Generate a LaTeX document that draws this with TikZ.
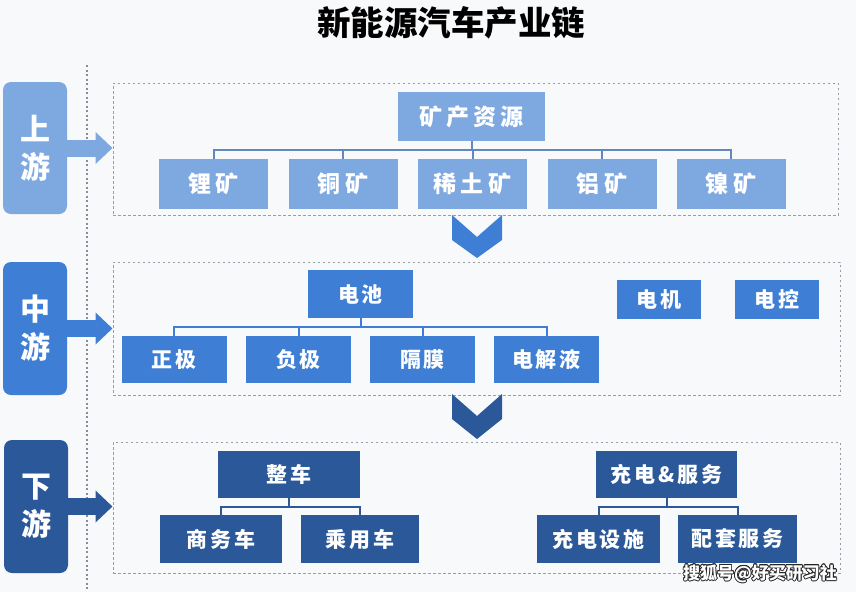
\documentclass[tikz,border=0pt]{standalone}
\usepackage{fontspec}
\usepackage{xcolor}
\usepackage{tikz}
\usepackage{contour}
\usetikzlibrary{positioning,calc,arrows.meta}
\newfontfamily\cjk{Noto Sans CJK SC}
\definecolor{upblue}{RGB}{125,168,224}
\definecolor{midblue}{RGB}{62,126,213}
\definecolor{lowblue}{RGB}{43,88,152}
\definecolor{upline}{RGB}{100,135,190}
\definecolor{framegray}{RGB}{150,158,170}
\definecolor{bggray}{RGB}{248,249,251}
\contourlength{0.7pt}

\begin{document}
\begin{tikzpicture}[x=1pt, y=-1pt, box/.style = {rectangle, inner sep=0pt, outer sep=0pt, text=white, font=\cjk\bfseries\fontsize{21}{21}\selectfont\addfontfeature{LetterSpace=14}}, upbox/.style = {box, fill=upblue, minimum width=109pt, minimum height=50pt, font=\cjk\bfseries\fontsize{23}{23}\selectfont\addfontfeature{LetterSpace=18}}, midbox/.style = {box, fill=midblue, minimum width=105pt, minimum height=47pt}, lowbox/.style = {box, fill=lowblue, minimum height=48pt}, stage/.style = {rectangle, rounded corners=8pt, minimum width=64pt, minimum height=133pt, inner sep=0pt, text=white, align=center, font=\cjk\bfseries\fontsize{30}{38}\selectfont}, frame/.style = {draw=framegray, line width=1pt, dash pattern=on 2.5pt off 2.5pt, inner sep=0pt}, link/.style = {line width=2pt}, bigarrow/.style = {line width=17pt, -{Triangle[length=17pt 0, width=31pt 0]}}]

\path[use as bounding box, fill=bggray] (0,0) rectangle (856,592);

\node[font=\cjk\bfseries\fontsize{33.5}{33.5}\selectfont] (title) at (451,23) {新能源汽车产业链};

\draw[framegray!90!black, line width=1.5pt, dash pattern=on 2pt off 2.5pt] (87,65) -- (87,590);

%upstream
\node[stage, fill=upblue, minimum height=132pt] (up) at (35,148) {上\\游};
\node[frame, minimum width=725pt, minimum height=132pt] (upframe) at (475.5,149) {};
\node[upbox, minimum width=147pt, minimum height=49pt] (res) at (471.5,116.5) {矿产资源};
\node[upbox] (li) at (213.5,184) {锂矿};
\node[upbox] (cu) at (343,184) {铜矿};
\node[upbox] (re) at (472.5,184) {稀土矿};
\node[upbox] (al) at (602,184) {铝矿};
\node[upbox] (ni) at (731,184) {镍矿};
\foreach \c in {li,cu,re,al,ni}
  \draw[link, upline] (res.south) -- ++(0,9) -| (\c.north);
\draw[bigarrow, upblue] (up.east) -- (up.east -| upframe.west);

%midstream
\node[stage, fill=midblue] (mid) at (35,328.5) {中\\游};
\node[frame, minimum width=727pt, minimum height=133pt] (midframe) at (476.5,328.5) {};
\node[midbox, minimum height=48pt] (bat) at (360.5,294) {电池};
\node[midbox] (pos) at (174,359.5) {正极};
\node[midbox] (neg) at (298.5,359.5) {负极};
\node[midbox] (sep) at (422.5,359.5) {隔膜};
\node[midbox] (ele) at (546.5,359.5) {电解液};
\node[midbox, minimum width=84pt, minimum height=39pt] (motor) at (659,299.5) {电机};
\node[midbox, minimum width=84pt, minimum height=39pt] (ctrl) at (777,299.5) {电控};
\foreach \c in {pos,neg,sep,ele}
  \draw[link, midblue] (bat.south) -- ++(0,9) -| (\c.north);
\draw[bigarrow, midblue] (mid.east) -- (mid.east -| midframe.west);

%downstream
\node[stage, fill=lowblue] (low) at (36,506.5) {下\\游};
\node[frame, minimum width=727pt, minimum height=131pt] (lowframe) at (476.5,507.5) {};
\node[lowbox, minimum width=142pt, minimum height=47pt] (car) at (289,474.5) {整车};
\node[lowbox, minimum width=122pt] (biz) at (221,539) {商务车};
\node[lowbox, minimum width=118pt] (pass) at (360,539) {乘用车};
\node[lowbox, minimum width=141pt, minimum height=47pt] (chg) at (666.5,474.5) {充电\&服务};
\node[lowbox, minimum width=123pt] (fac) at (598.5,539) {充电设施};
\node[lowbox, minimum width=119pt] (svc) at (737.5,539) {配套服务};
\foreach \c in {biz,pass}
  \draw[link, lowblue] (car.south) -- ++(0,9) -| (\c.north);
\foreach \c in {fac,svc}
  \draw[link, lowblue] (chg.south) -- ++(0,9) -| (\c.north);
\draw[bigarrow, lowblue] (low.east) -- (low.east -| lowframe.west);

%chevrons between stages
\fill[midblue] (452,215) -- (477,237) -- (502,215) -- (502,240) -- (477,258) -- (452,240) -- cycle;
\fill[lowblue] (452,394) -- (477,416) -- (502,394) -- (502,419) -- (477,439) -- (452,419) -- cycle;

\node[text=white, font=\cjk\bfseries\fontsize{17}{17}\selectfont] (mark) at (760,574) {\contour{black!85}{搜狐号@好买研习社}};
\end{tikzpicture}
\end{document}
